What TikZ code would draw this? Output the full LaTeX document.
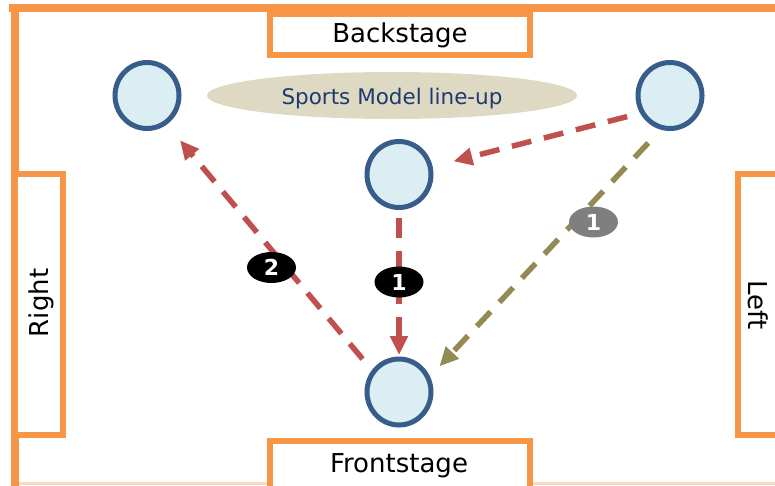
\documentclass[tikz,border=0pt]{standalone}
\usepackage{fontspec}
\setmainfont{DejaVu Sans}
\usetikzlibrary{shapes.geometric,arrows.meta}
\definecolor{stageorange}{HTML}{F79646}
\definecolor{faintorange}{HTML}{FCD9BC}
\definecolor{performerfill}{HTML}{DBEEF4}
\definecolor{performerline}{HTML}{385D8A}
\definecolor{lineupfill}{HTML}{DDD9C3}
\definecolor{lineuptext}{HTML}{1F3A6E}
\definecolor{moved}{HTML}{C0504D}
\definecolor{moveolive}{HTML}{948A54}
\definecolor{badgegray}{HTML}{7F7F7F}
\begin{document}
\begin{tikzpicture}[x=1pt,y=-1pt,
  frame/.style={draw=stageorange,line width=8pt},
  stagebox/.style={draw=stageorange,line width=6pt,fill=white,rectangle,inner sep=0pt,outer sep=0pt},
  stagetext/.style={font=\fontsize{26}{30}\selectfont,text=black,inner sep=0pt},
  performer/.style={ellipse,draw=performerline,fill=performerfill,line width=5pt,
    minimum width=64pt,minimum height=66pt,inner sep=0pt,outer sep=0pt},
  lineup/.style={ellipse,fill=lineupfill,minimum width=370pt,minimum height=47pt,inner sep=0pt,
    text=lineuptext,font=\fontsize{21.5}{25}\selectfont,text height=17.6pt,text depth=0pt},
  move/.style={line width=5.5pt,dash pattern=on 20pt off 13pt,
    -{Triangle[length=19pt,width=17pt]}},
  redmove/.style={move,draw=moved},
  olivemove/.style={move,draw=moveolive},
  badge/.style={ellipse,minimum width=49pt,minimum height=31pt,inner sep=0pt,
    text=white,font=\bfseries\fontsize{22}{26}\selectfont}
]
\useasboundingbox (0,0) rectangle (775,485);

% outer stage outline
\draw[faintorange,line width=2.5pt] (14.5,483.5) -- (790,483.5);
\draw[frame] (9,7.5) -- (790,7.5);
\draw[frame] (14.5,3.5) -- (14.5,490);

% wings and stage edges
\node[stagebox,minimum width=48pt,minimum height=261.5pt] (rightwing) at (38.5,304.25) {};
\node[stagebox,minimum width=62.5pt,minimum height=261.5pt] (leftwing) at (768.75,304.25) {};
\node[stagebox,minimum width=260pt,minimum height=41pt] (back) at (399.5,34.5) {};
\node[stagebox,minimum width=260pt,minimum height=59pt] (front) at (399.5,470) {};

\node[stagetext,anchor=base] (backtext) at (400,42) {Backstage};
\node[stagetext,anchor=base] (fronttext) at (399,472) {Frontstage};
\node[stagetext,rotate=90] (righttext) at (41,303) {Right};
\node[stagetext,rotate=-90] (lefttext) at (758.5,305) {Left};

% line-up banner
\node[lineup] (lineup) at (392,95.5) {Sports Model line-up};

% performers
\node[performer] (tl) at (147,95.5) {};
\node[performer] (tr) at (670,95.5) {};
\node[performer] (mid) at (399,174.5) {};
\node[performer] (bot) at (399,392) {};

% moves
\draw[redmove,shorten <=16pt,shorten >=24pt] (tr.212) -- (mid.13);
\draw[redmove,shorten <=10.5pt,shorten >=4pt] (mid.south) -- (bot.north);
\draw[redmove,shorten <=17pt,shorten >=23pt] (bot.142) -- (tl.-56);
\draw[olivemove,shorten <=21pt,shorten >=16.5pt] (tr.257) -- (bot.25.5);

% order badges
\node[badge,fill=black] (orderone) at (399,282) {1};
\node[badge,fill=black] (ordertwo) at (271.5,267.5) {2};
\node[badge,fill=badgegray] (orderoneb) at (593.5,222) {1};
\end{tikzpicture}
\end{document}
